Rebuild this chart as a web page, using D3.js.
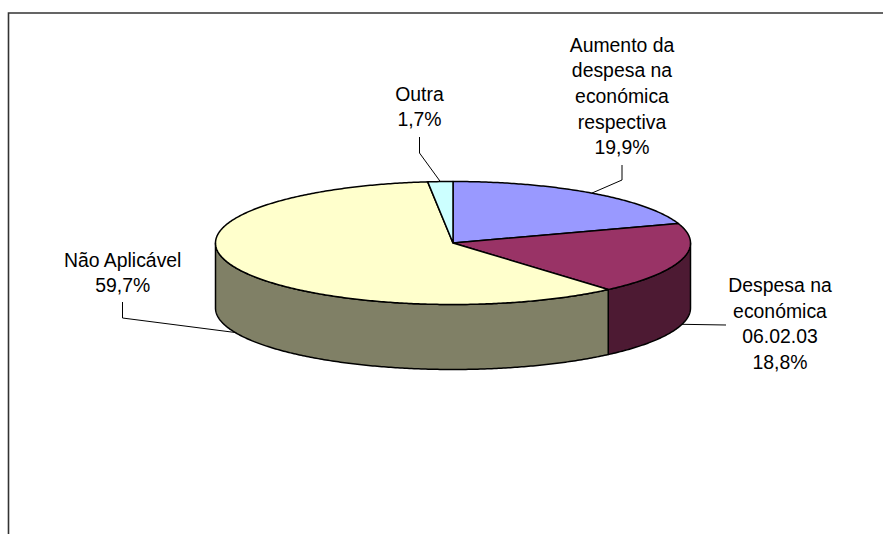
<!DOCTYPE html>
<html>
<head>
<meta charset="utf-8">
<script src="https://cdn.jsdelivr.net/npm/d3@7"></script>
<style>
html,body{margin:0;padding:0;background:#fff;overflow:hidden}
svg{display:block}
text{font-family:"Liberation Sans",Arial,sans-serif;font-size:19.4px;fill:#000;text-anchor:middle}
</style>
</head>
<body>
<svg id="chart" width="883" height="534"></svg>
<script>
const categories = [
  ["Aumento da","despesa na","económica","respectiva"],
  ["Despesa na","económica","06.02.03"],
  ["Não Aplicável"],
  ["Outra"]
];
const values = [19.9, 18.8, 59.7, 1.7];
const valueLabels = ["19,9%","18,8%","59,7%","1,7%"];
const topColors = ["#9999FF","#993366","#FFFFCC","#CCFFFF"];
const sideColors = ["#4D4D80","#4D1A33","#808066","#668080"];

const cx = 453, cy = 243, rx = 237.5, ry = 61.5, depth = 65;
const lineGap = 25.6;
// label placement: centre x, first baseline y, elbow length, leader kind
const labelLayout = [
  {x:622, y:51.7, elbow:[[622,165],[622,180]], onSide:false},
  {x:780, y:292,  elbow:[[726,325]],           onSide:true},
  {x:122.7,y:266.7,elbow:[[122.5,302],[122.5,318]], onSide:true},
  {x:419.5,y:100.7,elbow:[[419.5,137],[419.5,153]], onSide:false}
];

const svg = d3.select("#chart");
const sx = d3.scaleLinear().domain([-1,1]).range([cx-rx,cx+rx]);
const sy = d3.scaleLinear().domain([-1,1]).range([cy-ry,cy+ry]);
const px = a => sx(Math.sin(a));
const py = (a,dz=0) => sy(-Math.cos(a))+dz;

const arcs = d3.pie().sort(null).startAngle(0).endAngle(2*Math.PI)(values);
const line = d3.line();
const arcPts = (a0,a1,dz=0) => {
  const n = Math.max(2, Math.ceil((a1-a0)/0.01));
  return d3.range(n+1).map(i => {const a=a0+(a1-a0)*i/n; return [px(a),py(a,dz)];});
};

// frame (open on right and bottom, running off the page)
svg.append("path").attr("d", line([[8.5,534],[8.5,13],[883,13]]))
  .attr("fill","none").attr("stroke","#333").attr("stroke-width",1.6);

// sides: visible front part of the rim
const front0 = Math.PI/2, front1 = 3*Math.PI/2;
arcs.forEach((d,i) => {
  const a0 = Math.max(d.startAngle,front0), a1 = Math.min(d.endAngle,front1);
  if (a1 <= a0) return;
  const pts = arcPts(a0,a1,0).concat(arcPts(a0,a1,depth).reverse());
  svg.append("path").attr("d",line(pts)+"Z")
    .attr("fill",sideColors[i]).attr("stroke","#000").attr("stroke-width",1.5).attr("stroke-linejoin","round");
});

// top faces
arcs.forEach((d,i) => {
  const pts = [[cx,cy]].concat(arcPts(d.startAngle,d.endAngle));
  svg.append("path").attr("d",line(pts)+"Z")
    .attr("fill",topColors[i]).attr("stroke","#000").attr("stroke-width",1.5).attr("stroke-linejoin","round");
});

// leaders and labels
arcs.forEach((d,i) => {
  const L = labelLayout[i], mid = (d.startAngle+d.endAngle)/2;
  const end = [px(mid), py(mid, L.onSide ? depth : 0)];
  svg.append("path").attr("d",line(L.elbow.concat([end])))
    .attr("fill","none").attr("stroke","#000").attr("stroke-width",1);
  const t = svg.append("text");
  categories[i].concat([valueLabels[i]]).forEach((s,k) => {
    t.append("tspan").attr("x",L.x).attr("y",L.y+k*lineGap).text(s);
  });
});
</script>
</body>
</html>
